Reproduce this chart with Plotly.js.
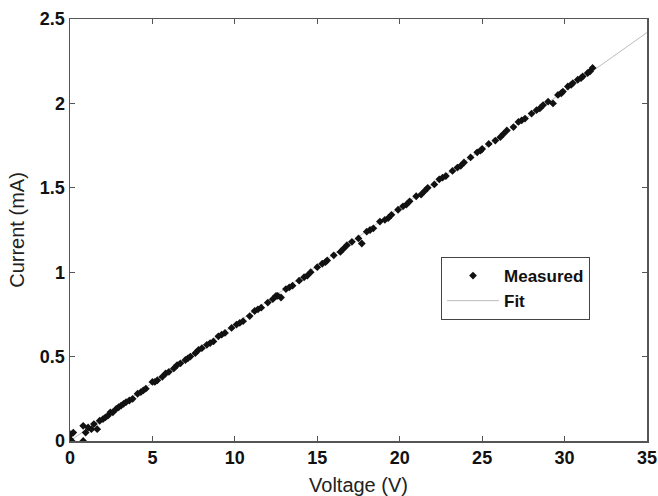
<!DOCTYPE html>
<html>
<head>
<meta charset="utf-8">
<script src="https://cdn.plot.ly/plotly-3.0.1.min.js"></script>
<style>html,body{margin:0;padding:0;background:#fff;}#chart{width:658px;height:496px;}</style>
</head>
<body>
<div id="chart"></div>
<script>
// Measured data (voltage V, current mA)
var measuredVoltage = [0.00,0.05,0.10,0.20,0.80,0.80,0.95,1.10,1.30,1.45,1.65,1.80,2.00,2.15,2.30,2.45,2.60,2.80,2.95,3.10,3.25,3.40,3.60,3.80,4.10,4.30,4.45,4.60,5.00,5.15,5.30,5.60,5.80,6.00,6.30,6.50,6.70,7.00,7.15,7.30,7.60,7.80,8.00,8.30,8.50,8.70,9.00,9.20,9.40,9.80,10.10,10.30,10.50,10.90,11.20,11.40,11.60,12.00,12.30,12.50,12.60,12.80,13.10,13.30,13.50,13.90,14.20,14.40,14.60,15.00,15.30,15.50,15.60,16.00,16.40,16.60,16.80,17.10,17.50,17.70,18.00,18.20,18.40,18.80,19.10,19.30,19.50,19.90,20.20,20.40,20.60,21.00,21.30,21.50,21.70,22.10,22.40,22.60,22.80,23.20,23.50,23.70,23.90,24.30,24.70,24.90,25.00,25.40,25.80,26.10,26.30,26.50,26.90,27.20,27.40,27.60,28.00,28.30,28.50,28.70,29.00,29.30,29.60,29.80,29.90,30.20,30.40,30.50,30.80,31.00,31.10,31.40,31.55,31.70];
var measuredCurrent = [0.01,0.04,0.00,0.05,0.00,0.09,0.05,0.08,0.07,0.10,0.07,0.12,0.13,0.14,0.15,0.17,0.17,0.19,0.20,0.21,0.22,0.23,0.24,0.25,0.28,0.29,0.30,0.31,0.35,0.35,0.36,0.38,0.40,0.41,0.43,0.45,0.46,0.48,0.49,0.50,0.52,0.54,0.55,0.57,0.58,0.59,0.62,0.63,0.64,0.67,0.69,0.70,0.71,0.74,0.77,0.78,0.79,0.82,0.84,0.86,0.86,0.85,0.90,0.91,0.92,0.95,0.97,0.98,1.00,1.03,1.05,1.06,1.07,1.10,1.12,1.14,1.16,1.18,1.20,1.17,1.24,1.25,1.26,1.30,1.31,1.32,1.34,1.37,1.39,1.40,1.42,1.45,1.46,1.48,1.50,1.52,1.55,1.56,1.57,1.60,1.62,1.63,1.65,1.68,1.71,1.72,1.73,1.76,1.78,1.80,1.82,1.84,1.86,1.89,1.90,1.91,1.94,1.96,1.97,1.99,2.01,2.00,2.05,2.06,2.07,2.10,2.11,2.12,2.14,2.15,2.16,2.18,2.19,2.21];
// Fit line endpoints
var fitVoltage = [0, 35];
var fitCurrent = [0.0, 2.42];

var xTicks = [0,5,10,15,20,25,30,35];
var yTicks = [0,0.5,1,1.5,2,2.5];
var yTickText = ['0','0.5','1','1.5','2','2.5'];

var FONT = 'Liberation Sans, Arial, sans-serif';
var axisCommon = {
  showline: true, linecolor: '#555', linewidth: 1.5, mirror: 'ticks',
  ticks: 'inside', ticklen: 5, tickcolor: '#555', tickwidth: 1,
  showgrid: false, zeroline: false,
  tickfont: {family: FONT, size: 18, color: '#111', weight: 'bold'}
};

var traces = [
  {x: fitVoltage, y: fitCurrent, mode: 'lines', name: 'Fit',
   line: {color: '#bdbdbd', width: 1}},
  {x: measuredVoltage, y: measuredCurrent, mode: 'markers', name: 'Measured',
   marker: {symbol: 'diamond', size: 6, color: '#111'}}
];

var layout = {
  width: 658, height: 496,
  margin: {l: 70, r: 11, t: 19, b: 55},
  paper_bgcolor: '#fff', plot_bgcolor: '#fff',
  showlegend: true,
  legend: {x: 0.643, y: 0.436, xanchor: 'left', yanchor: 'top',
    bordercolor: '#444', borderwidth: 1, bgcolor: '#fff', traceorder: 'reversed',
    font: {family: FONT, size: 17, color: '#111', weight: 'bold'},
    tracegroupgap: 0, itemwidth: 52},
  xaxis: Object.assign({}, axisCommon, {range: [0, 35], tickvals: xTicks,
    title: {text: 'Voltage (V)', standoff: 12,
      font: {family: FONT, size: 20, color: '#222'}}}),
  yaxis: Object.assign({}, axisCommon, {range: [0, 2.5], tickvals: yTicks, ticktext: yTickText,
    title: {text: 'Current (mA)', standoff: 10,
      font: {family: FONT, size: 20, color: '#222'}}})
};

Plotly.newPlot('chart', traces, layout, {displayModeBar: false, staticPlot: true});
</script>
</body>
</html>
